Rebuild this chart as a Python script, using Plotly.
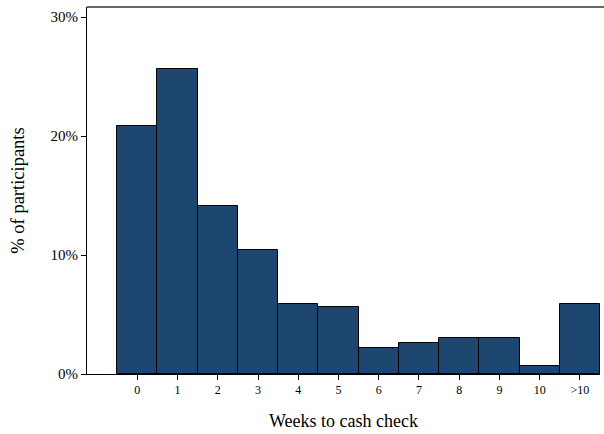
import plotly.graph_objects as go

categories = ["0", "1", "2", "3", "4", "5", "6", "7", "8", "9", "10", ">10"]
percent_participants = [20.8, 25.6, 14.1, 10.4, 5.9, 5.6, 2.2, 2.6, 3.0, 3.0, 0.7, 5.9]
y_ticks = [0, 10, 20, 30]
y_tick_labels = ["0%", "10%", "20%", "30%"]

positions = list(range(len(categories)))

fig = go.Figure(
    go.Bar(
        x=positions,
        y=percent_participants,
        width=1,
        marker=dict(color="#1d4670", line=dict(color="#000000", width=1)),
        hoverinfo="skip",
    )
)

font = "Liberation Serif, Times New Roman, serif"

fig.update_layout(
    width=604,
    height=434,
    margin=dict(l=87, r=4, t=7, b=60),
    plot_bgcolor="white",
    paper_bgcolor="white",
    showlegend=False,
    font=dict(family=font, color="#000000"),
    bargap=0,
)

fig.update_xaxes(
    range=[-1.25, 11.5],
    tickvals=positions,
    ticktext=categories,
    ticks="outside",
    ticklen=5,
    tickcolor="#000000",
    tickfont=dict(size=12, family=font),
    showline=True,
    linecolor="#000000",
    linewidth=1,
    showgrid=False,
    zeroline=False,
    title=dict(text="Weeks to cash check", font=dict(size=18, family=font), standoff=17),
)

fig.update_yaxes(
    range=[0, 30.84],
    tickvals=y_ticks,
    ticktext=y_tick_labels,
    ticks="outside",
    ticklen=5,
    tickcolor="#000000",
    tickfont=dict(size=15, family=font),
    showline=True,
    linecolor="#000000",
    linewidth=1,
    showgrid=False,
    zeroline=False,
    title=dict(text="% of participants", font=dict(size=18.5, family=font), standoff=21),
)

fig.add_shape(
    type="line", xref="paper", yref="paper",
    x0=0, x1=1.02, y0=1, y1=1,
    line=dict(color="#333333", width=1.5),
)

fig.write_html(
    "out.html",
    config={"displayModeBar": False},
    post_script="document.body.style.margin='0';document.body.style.overflow='hidden';",
)
